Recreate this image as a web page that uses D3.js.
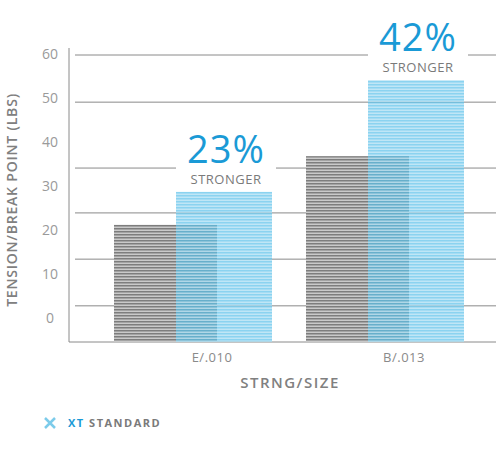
<!DOCTYPE html><html><head><meta charset="utf-8"><script src="https://cdn.jsdelivr.net/npm/d3@7"></script>
<style>body{margin:0;background:#fff}text{font-family:"Open Sans",sans-serif}</style></head><body><svg id="c" width="500" height="452"></svg>
<script>
const categories=["E/.010","B/.013"];
const standardValues=[25.6,40.6];
const xtValues=[32.8,57.2];
const percentLabels=["23%","42%"];
const tickLabels=["0","10","20","30","40","50","60"];
const gridValues=[7.9,18.1,28.2,38,52.4,62.7];

const svg=d3.select("#c");
const defs=svg.append("defs");
function pat(id,a,b){const p=defs.append("pattern").attr("id",id).attr("width",4).attr("height",3).attr("patternUnits","userSpaceOnUse");
p.append("rect").attr("width",4).attr("height",3).attr("fill",b);p.append("rect").attr("width",4).attr("height",1.5).attr("fill",a);}
pat("pg","#7d7d7d","#c9c9c9");pat("pb","#5ec2ea","#a6dcf2");

const y=d3.scaleLinear().domain([0,62.7]).range([342,55]);
const yl=d3.scaleLinear().domain([0,60]).range([318,54]);
const x=d3.scaleBand().domain(categories).range([66,450]);
const gray="#8a8a8a";

svg.selectAll(".g").data(gridValues).join("line").attr("x1",75).attr("x2",496).attr("y1",d=>y(d)).attr("y2",d=>y(d)).attr("stroke",gray).attr("stroke-width",1);
svg.selectAll(".tl").data(tickLabels).join("text").attr("x",50).attr("y",d=>yl(+d)+5).attr("text-anchor","middle").attr("fill","#9a9a9a").attr("font-size",14).text(d=>d);
svg.append("line").attr("x1",69).attr("x2",69).attr("y1",48).attr("y2",342).attr("stroke",gray);
svg.append("line").attr("x1",69).attr("x2",496).attr("y1",342).attr("y2",342).attr("stroke",gray);

categories.forEach((c,i)=>{
 const b=x(c);
 const cx=b+160, top=y(xtValues[i]);
 svg.append("rect").attr("x",cx-50).attr("y",top-60).attr("width",100).attr("height",58).attr("fill","#fff");
 svg.append("rect").attr("x",b+48).attr("y",y(standardValues[i])).attr("width",103).attr("height",342-y(standardValues[i])).attr("fill","url(#pg)");
 svg.append("rect").attr("x",b+110).attr("y",top).attr("width",96).attr("height",342-top).attr("fill","url(#pb)").attr("opacity",0.72);
 svg.append("text").attr("x",cx).attr("y",top-29).attr("text-anchor","middle").attr("fill","#1a9ad6").attr("font-size",38).attr("font-family","Roboto").attr("letter-spacing",1).text(percentLabels[i]);
 svg.append("text").attr("x",cx).attr("y",top-8).attr("text-anchor","middle").attr("fill","#7a7a7a").attr("font-size",13).attr("letter-spacing",0.5).text("STRONGER");
 svg.append("text").attr("x",cx-14).attr("y",362).attr("text-anchor","middle").attr("fill","#8a8a8a").attr("font-size",13).attr("letter-spacing",0.5).text(c);
});
svg.append("text").attr("x",290).attr("y",388).attr("text-anchor","middle").attr("fill","#808080").attr("font-size",15).attr("font-weight",600).attr("letter-spacing",1.5).text("STRNG/SIZE");
svg.append("text").attr("transform","translate(17,200) rotate(-90)").attr("text-anchor","middle").attr("fill","#808080").attr("font-size",14).attr("font-weight",600).attr("letter-spacing",0.8).text("TENSION/BREAK POINT (LBS)");
const lg=svg.append("g").attr("transform","translate(50,423)");
lg.append("path").attr("d","M-5,-5L5,5M5,-5L-5,5").attr("stroke","#7ccbea").attr("stroke-width",2.5).attr("fill","none");
const lt=svg.append("text").attr("x",68).attr("y",427).attr("font-size",11).attr("font-weight",700).attr("letter-spacing",1.5);
lt.append("tspan").attr("fill","#1a9ad6").text("XT ");lt.append("tspan").attr("fill","#7a7a7a").text("STANDARD");
</script></body></html>
